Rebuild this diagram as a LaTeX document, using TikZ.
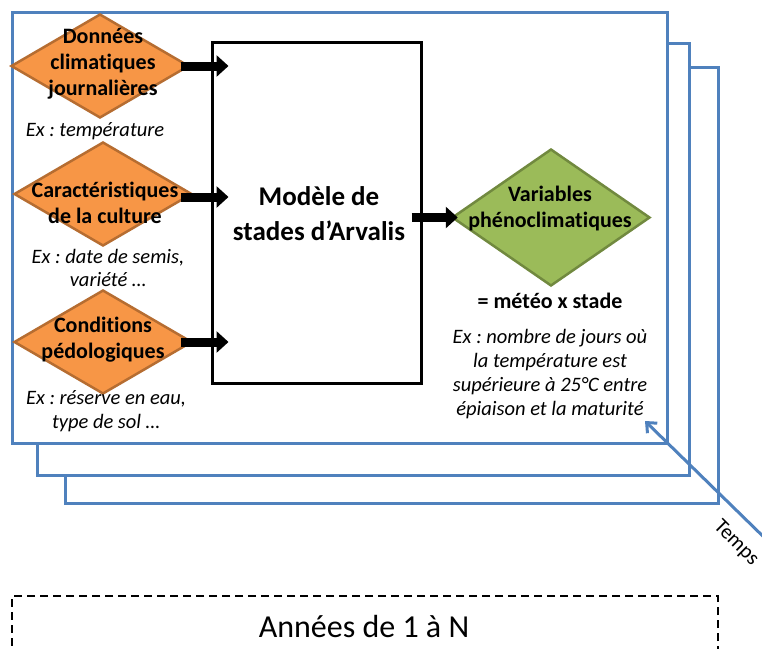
\documentclass[tikz,border=0pt]{standalone}
\usepackage{fontspec}
\setmainfont{Carlito}[Ligatures=NoCommon]
\frenchspacing
\usetikzlibrary{shapes.geometric,arrows.meta}
\definecolor{frameblue}{HTML}{4F81BD}
\definecolor{orfill}{HTML}{F79646}
\definecolor{ordraw}{HTML}{B66D31}
\definecolor{grfill}{HTML}{9BBB59}
\definecolor{grdraw}{HTML}{71893F}
\tikzset{
  frame/.style={draw=frameblue,line width=3pt,fill=white},
  odiam/.style={diamond,draw=ordraw,fill=orfill,line width=2.5pt,inner sep=0pt,minimum width=178pt,minimum height=104pt},
  gdiam/.style={diamond,draw=grdraw,fill=grfill,line width=2.5pt,inner sep=0pt,minimum width=198pt,minimum height=137pt},
  dtext/.style={font=\fontsize{22}{26}\selectfont\bfseries,align=center,inner sep=0pt},
  extext/.style={font=\fontsize{20.5}{23.7}\selectfont\itshape,align=center,inner sep=0pt},
  bigarrow/.style={line width=9pt,-{Triangle[length=12pt,width=21pt]}},
}
\begin{document}
\begin{tikzpicture}[x=1pt,y=-1pt]
\useasboundingbox (0,0) rectangle (762,648);
% stacked frames
\draw[frame] (65,67) rectangle (718,503);
\draw[frame] (37,43) rectangle (689,475);
\draw[frame] (12,12) rectangle (667,443);
% orange diamonds
\node[odiam] (d1) at (100,66) {};
\node[odiam] (d2) at (103,194) {};
\node[odiam] (d3) at (103,342) {};
\node[dtext] (t1) at (103,64) {Données\\climatiques\\journalières};
\node[dtext] (t2) at (105,203) {Caractéristiques\\de la culture};
\node[dtext] (t3) at (103,340) {Conditions\\pédologiques};
\node[extext] (e1) at (95,131) {Ex : température};
\node[extext] (e2) at (108,268) {Ex : date de semis,\\variété …};
\node[extext] (e3) at (106,411) {Ex : réserve en eau,\\type de sol …};
% model box
\node[draw=black,line width=3pt,minimum width=209pt,minimum height=341pt,inner sep=0pt] (model) at (316.5,212.5) {};
\node[font=\fontsize{27}{35}\selectfont\bfseries,align=center,inner sep=0pt] (mt) at (319,214) {Modèle de\\stades d’Arvalis};
% green diamond
\node[gdiam] (g) at (551,217.5) {};
\node[dtext] (gt) at (550,209) {Variables\\phénoclimatiques};
\node[font=\fontsize{22}{26}\selectfont\bfseries,inner sep=0pt] (eq) at (550,301) {= météo x stade};
\node[extext] (e4) at (550,374) {Ex : nombre de jours où\\la température est\\supérieure à 25°C entre\\épiaison et la maturité};
% arrows
\draw[bigarrow] ([xshift=-9pt]d1.east) -- ([xshift=18pt]model.west |- d1.east);
\draw[bigarrow] ([xshift=-12pt]d2.east |- 0,197) -- ([xshift=18pt]model.west |- 0,197);
\draw[bigarrow] ([xshift=-12pt]d3.east) -- ([xshift=18pt]model.west |- d3.east);
\draw[bigarrow] ([xshift=-11pt]model.east |- g.west) -- ([xshift=7pt]g.west);
% time arrow
\coordinate (tstart) at (775,548);
\coordinate (tend) at (645,421);
\draw[draw=frameblue,line width=3pt,-{Straight Barb[length=8pt,width=14pt]}] (tstart) -- (tend);
\node[font=\fontsize{21}{24}\selectfont,rotate=-45,inner sep=0pt] (temps) at (736,543) {Temps};
% dashed box
\node[draw=black,line width=1.2pt,dash pattern=on 8pt off 5pt,minimum width=706pt,minimum height=80pt,inner sep=0pt] (years) at (365,636) {};
\node[font=\fontsize{32}{36}\selectfont,inner sep=0pt] (yt) at (364,626) {Années de 1 à N};
\end{tikzpicture}
\end{document}
